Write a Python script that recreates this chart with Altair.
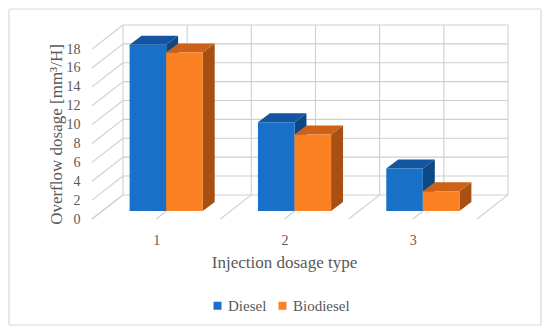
import json
import altair as alt
import pandas as pd

# ---- data ----
categories = ["1", "2", "3"]
series = ["Diesel", "Biodiesel"]
diesel = [17.6, 9.4, 4.5]
biodiesel = [16.8, 8.1, 2.1]
y_ticks = [0, 2, 4, 6, 8, 10, 12, 14, 16, 18]

# ---- style / projection constants ----
WALL_DX, WALL_DY = 0.2414, 2.55    # oblique shift of the back wall (data units)
FACE_DX, FACE_DY = 0.078, 0.85     # shift of bar front faces
DEPTH_DX, DEPTH_DY = 0.093, 0.95   # depth of each bar
BAR_W = 0.285
X_MAX = len(categories) + WALL_DX
Y_MAX = max(y_ticks) + WALL_DY

FRONT = {"Diesel": "#1870c9", "Biodiesel": "#fb8122"}
TOP = {"Diesel": "#13559e", "Biodiesel": "#cd6118"}
SIDE = {"Diesel": "#0c4886", "Biodiesel": "#a84f12"}
GRID = "#cfcfcf"
TEXT = "#595959"
FONT = "Liberation Serif"

values = {"Diesel": diesel, "Biodiesel": biodiesel}

front_rows, side_rows, top_rows = [], [], []
for j, s in enumerate(series):
    for i, (cat, v) in enumerate(zip(categories, values[s])):
        xl = i + 0.5 + (j - 1) * BAR_W + FACE_DX
        xr = xl + BAR_W
        vt = v + FACE_DY
        bar = f"{s}-{cat}"
        front_rows.append(dict(series=s, cat=cat, value=v, x=xl, x2=xr, y=FACE_DY, y2=vt))
        side_rows += [
            dict(series=s, bar=bar, x=xr, y=FACE_DY, y2=vt),
            dict(series=s, bar=bar, x=xr + DEPTH_DX, y=FACE_DY + DEPTH_DY, y2=vt + DEPTH_DY),
        ]
        top_rows += [
            dict(series=s, bar=bar, x=xl, y=vt, y2=vt),
            dict(series=s, bar=bar, x=xl + DEPTH_DX, y=vt, y2=vt + DEPTH_DY),
            dict(series=s, bar=bar, x=xr, y=vt, y2=vt + DEPTH_DY),
            dict(series=s, bar=bar, x=xr + DEPTH_DX, y=vt + DEPTH_DY, y2=vt + DEPTH_DY),
        ]
fronts = pd.DataFrame(front_rows)
sides = pd.DataFrame(side_rows)
tops = pd.DataFrame(top_rows)

# grid lines of the 3-D frame
grid_rows = []
for t in y_ticks:
    grid_rows.append(dict(x=WALL_DX, x2=len(categories) + WALL_DX, y=t + WALL_DY, y2=t + WALL_DY))  # back wall
    grid_rows.append(dict(x=0, x2=WALL_DX, y=t, y2=t + WALL_DY))  # side wall
half = [k * 0.5 for k in range(2 * len(categories) + 1)]
for h in half:
    grid_rows.append(dict(x=h + WALL_DX, x2=h + WALL_DX, y=WALL_DY, y2=max(y_ticks) + WALL_DY))  # back verticals
    grid_rows.append(dict(x=h, x2=h + WALL_DX, y=0, y2=WALL_DY))  # floor
grid = pd.DataFrame(grid_rows)

xs = alt.Scale(domain=[0, X_MAX], nice=False, zero=False)
ys = alt.Scale(domain=[0, Y_MAX], nice=False, zero=False)

label_expr = "%s[round(datum.value - 0.5)]" % json.dumps(categories)

x_axis = alt.Axis(
    values=[i + 0.5 for i in range(len(categories))], labelExpr=label_expr,
    grid=False, domain=False, ticks=False, labelPadding=14, labelFontSize=14,
    labelFont=FONT, labelColor=TEXT, title="Injection dosage type", titleFont=FONT,
    titleFontSize=17, titleColor=TEXT, titleFontWeight="normal", titleX=192, titleY=48,
    titleBaseline="alphabetic", titleAlign="center",
)
y_axis = alt.Axis(
    values=y_ticks, grid=False, domain=False, ticks=False, labelPadding=12,
    labelFontSize=14, labelFont=FONT, labelColor=TEXT,
    title="Overflow dosage [mm³/H]", titleFont=FONT, titleFontSize=17, titleColor=TEXT,
    titleFontWeight="normal", titleX=-31, titleY=109, titleAngle=-90,
    titleBaseline="alphabetic", titleAlign="center",
)

X = alt.X("x:Q", scale=xs, axis=x_axis)
Y = alt.Y("y:Q", scale=ys, axis=y_axis)

frame = alt.Chart(pd.DataFrame({"a": [0]})).mark_rect(
    fill=None, fillOpacity=0, stroke="#d9d9d9", strokeWidth=1.2, cornerRadius=2
).encode(x=alt.value(-83), x2=alt.value(449), y=alt.value(-16), y2=alt.value(300))

grid_layer = alt.Chart(grid).mark_rule(color=GRID, strokeWidth=1.1).encode(
    x=X, x2="x2:Q", y=Y, y2="y2:Q",
)

layers = [frame, grid_layer]
for s in series:
    layers.append(
        alt.Chart(sides[sides.series == s]).mark_area(orient="vertical", fill=SIDE[s]).encode(
            x=X, y=Y, y2="y2:Q", detail="bar:N",
        )
    )
    layers.append(
        alt.Chart(tops[tops.series == s]).mark_area(orient="vertical", fill=TOP[s]).encode(
            x=X, y=Y, y2="y2:Q", detail="bar:N",
        )
    )

legend = alt.Legend(
    orient="none", legendX=118, legendY=273, direction="horizontal", title=None,
    symbolType="square", symbolSize=64, symbolStrokeWidth=0, labelFont=FONT,
    labelFontSize=15, labelColor=TEXT, columnPadding=8, labelOffset=3, padding=0,
)
layers.append(
    alt.Chart(fronts).mark_rect().encode(
        x=X, x2="x2:Q", y=Y, y2="y2:Q",
        color=alt.Color("series:N", scale=alt.Scale(domain=series, range=[FRONT[s] for s in series]),
                        legend=legend),
    )
)

chart = alt.layer(*layers).properties(
    width=416, height=194,
    autosize=alt.AutoSizeParams(type="none"),
    padding={"left": 84, "top": 17, "right": 34, "bottom": 107},
    background="white",
).configure_view(stroke=None)

chart.save("out.html", embed_options={"renderer": "svg", "actions": False})
